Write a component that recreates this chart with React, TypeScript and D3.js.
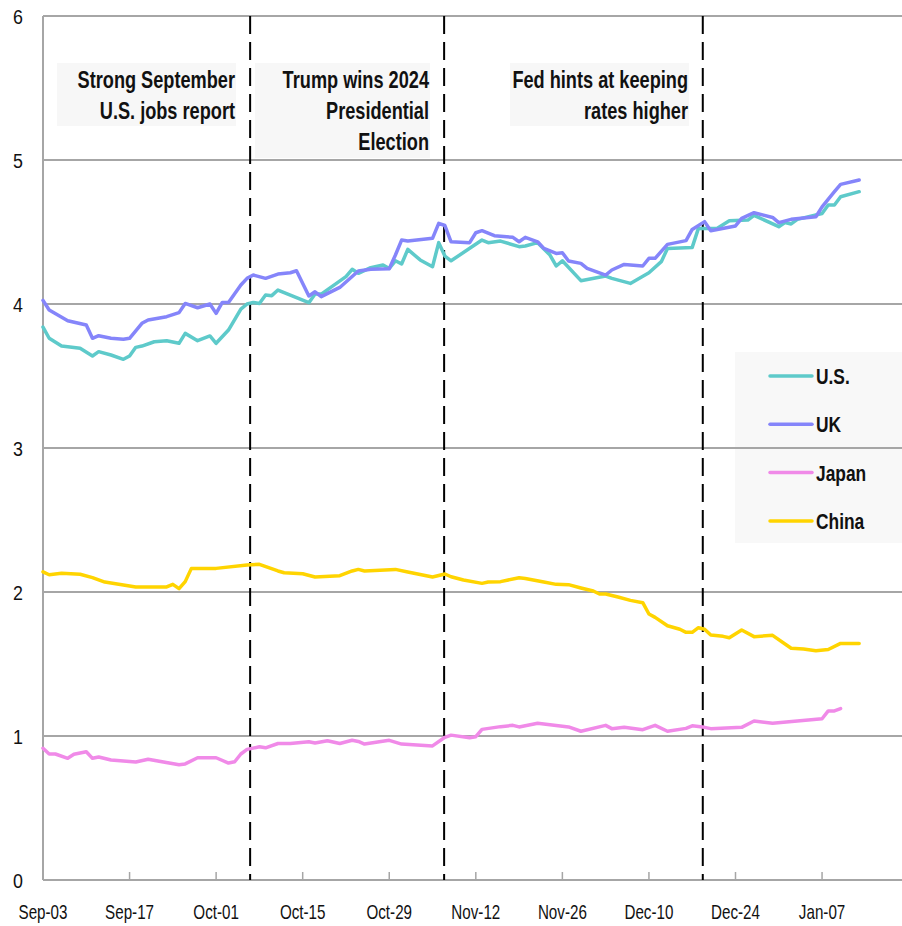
import React from "react";
import * as d3 from "d3";

const US: [string, number][] = [
  ["2024-09-03", 3.84], ["2024-09-04", 3.762], ["2024-09-06", 3.708], ["2024-09-09", 3.692], ["2024-09-11", 3.639],
  ["2024-09-12", 3.669], ["2024-09-14", 3.646], ["2024-09-16", 3.616], ["2024-09-17", 3.639], ["2024-09-18", 3.699],
  ["2024-09-19", 3.708], ["2024-09-21", 3.738], ["2024-09-23", 3.745], ["2024-09-25", 3.727], ["2024-09-26", 3.796],
  ["2024-09-28", 3.745], ["2024-09-30", 3.778], ["2024-10-01", 3.727], ["2024-10-03", 3.819], ["2024-10-05", 3.965],
  ["2024-10-06", 4.0], ["2024-10-07", 4.011], ["2024-10-08", 4.004], ["2024-10-09", 4.063], ["2024-10-10", 4.058],
  ["2024-10-11", 4.097], ["2024-10-16", 4.009], ["2024-10-17", 4.069], ["2024-10-18", 4.069], ["2024-10-22", 4.19],
  ["2024-10-23", 4.241], ["2024-10-24", 4.213], ["2024-10-26", 4.252], ["2024-10-28", 4.271], ["2024-10-29", 4.247],
  ["2024-10-30", 4.3], ["2024-10-31", 4.278], ["2024-11-01", 4.379], ["2024-11-03", 4.306], ["2024-11-05", 4.259],
  ["2024-11-06", 4.426], ["2024-11-07", 4.333], ["2024-11-08", 4.3], ["2024-11-13", 4.444], ["2024-11-14", 4.426],
  ["2024-11-16", 4.437], ["2024-11-19", 4.398], ["2024-11-20", 4.403], ["2024-11-22", 4.426], ["2024-11-24", 4.34],
  ["2024-11-25", 4.264], ["2024-11-26", 4.3], ["2024-11-29", 4.162], ["2024-12-03", 4.194], ["2024-12-04", 4.178],
  ["2024-12-07", 4.143], ["2024-12-10", 4.217], ["2024-12-12", 4.294], ["2024-12-13", 4.386], ["2024-12-17", 4.393],
  ["2024-12-18", 4.525], ["2024-12-21", 4.525], ["2024-12-23", 4.578], ["2024-12-26", 4.583], ["2024-12-27", 4.616],
  ["2024-12-31", 4.537], ["2025-01-01", 4.565], ["2025-01-02", 4.556], ["2025-01-03", 4.588], ["2025-01-07", 4.629],
  ["2025-01-08", 4.688], ["2025-01-09", 4.688], ["2025-01-10", 4.745], ["2025-01-13", 4.78],
];

const UK: [string, number][] = [
  ["2024-09-03", 4.025], ["2024-09-04", 3.958], ["2024-09-07", 3.884], ["2024-09-10", 3.854], ["2024-09-11", 3.762],
  ["2024-09-12", 3.78], ["2024-09-14", 3.762], ["2024-09-16", 3.755], ["2024-09-17", 3.762], ["2024-09-19", 3.866],
  ["2024-09-20", 3.889], ["2024-09-23", 3.912], ["2024-09-25", 3.94], ["2024-09-26", 4.004], ["2024-09-28", 3.974],
  ["2024-09-30", 4.0], ["2024-10-01", 3.935], ["2024-10-02", 4.011], ["2024-10-03", 4.011], ["2024-10-05", 4.132],
  ["2024-10-06", 4.178], ["2024-10-07", 4.201], ["2024-10-09", 4.178], ["2024-10-11", 4.208], ["2024-10-13", 4.217],
  ["2024-10-14", 4.231], ["2024-10-16", 4.056], ["2024-10-17", 4.085], ["2024-10-18", 4.051], ["2024-10-21", 4.115],
  ["2024-10-24", 4.229], ["2024-10-26", 4.241], ["2024-10-29", 4.245], ["2024-10-30", 4.34], ["2024-10-31", 4.444],
  ["2024-11-01", 4.437], ["2024-11-05", 4.456], ["2024-11-06", 4.56], ["2024-11-07", 4.545], ["2024-11-08", 4.432],
  ["2024-11-11", 4.426], ["2024-11-12", 4.495], ["2024-11-13", 4.509], ["2024-11-15", 4.474], ["2024-11-18", 4.463],
  ["2024-11-19", 4.432], ["2024-11-20", 4.463], ["2024-11-22", 4.432], ["2024-11-23", 4.386], ["2024-11-25", 4.351],
  ["2024-11-26", 4.356], ["2024-11-27", 4.299], ["2024-11-29", 4.282], ["2024-11-30", 4.247], ["2024-12-03", 4.201],
  ["2024-12-04", 4.236], ["2024-12-06", 4.275], ["2024-12-09", 4.264], ["2024-12-10", 4.317], ["2024-12-11", 4.317],
  ["2024-12-13", 4.414], ["2024-12-16", 4.44], ["2024-12-17", 4.518], ["2024-12-19", 4.572], ["2024-12-20", 4.509],
  ["2024-12-24", 4.542], ["2024-12-25", 4.595], ["2024-12-27", 4.634], ["2024-12-30", 4.601], ["2024-12-31", 4.565],
  ["2025-01-02", 4.588], ["2025-01-06", 4.606], ["2025-01-07", 4.675], ["2025-01-09", 4.78], ["2025-01-10", 4.831],
  ["2025-01-13", 4.861],
];

const JAPAN: [string, number][] = [
  ["2024-09-03", 0.915], ["2024-09-04", 0.875], ["2024-09-05", 0.875], ["2024-09-07", 0.845], ["2024-09-08", 0.873],
  ["2024-09-10", 0.891], ["2024-09-11", 0.845], ["2024-09-12", 0.854], ["2024-09-14", 0.833], ["2024-09-18", 0.819],
  ["2024-09-20", 0.838], ["2024-09-25", 0.8], ["2024-09-26", 0.806], ["2024-09-28", 0.849], ["2024-10-01", 0.849],
  ["2024-10-03", 0.812], ["2024-10-04", 0.821], ["2024-10-05", 0.875], ["2024-10-06", 0.907], ["2024-10-08", 0.925],
  ["2024-10-09", 0.918], ["2024-10-11", 0.948], ["2024-10-13", 0.948], ["2024-10-16", 0.96], ["2024-10-17", 0.951],
  ["2024-10-19", 0.967], ["2024-10-21", 0.948], ["2024-10-23", 0.97], ["2024-10-24", 0.962], ["2024-10-25", 0.944],
  ["2024-10-29", 0.97], ["2024-10-31", 0.944], ["2024-11-05", 0.931], ["2024-11-07", 0.991], ["2024-11-08", 1.006],
  ["2024-11-11", 0.988], ["2024-11-12", 0.995], ["2024-11-13", 1.046], ["2024-11-16", 1.065], ["2024-11-18", 1.074],
  ["2024-11-19", 1.063], ["2024-11-22", 1.088], ["2024-11-24", 1.078], ["2024-11-27", 1.063], ["2024-11-29", 1.033],
  ["2024-12-03", 1.074], ["2024-12-04", 1.051], ["2024-12-06", 1.06], ["2024-12-09", 1.044], ["2024-12-11", 1.074],
  ["2024-12-13", 1.033], ["2024-12-16", 1.053], ["2024-12-17", 1.071], ["2024-12-19", 1.06], ["2024-12-20", 1.051],
  ["2024-12-25", 1.06], ["2024-12-27", 1.104], ["2024-12-30", 1.088], ["2025-01-07", 1.12], ["2025-01-08", 1.174],
  ["2025-01-09", 1.174], ["2025-01-10", 1.19],
];

const CHINA: [string, number][] = [
  ["2024-09-03", 2.14], ["2024-09-04", 2.12], ["2024-09-06", 2.13], ["2024-09-09", 2.123], ["2024-09-11", 2.1],
  ["2024-09-13", 2.069], ["2024-09-15", 2.056], ["2024-09-18", 2.035], ["2024-09-23", 2.035], ["2024-09-24", 2.053],
  ["2024-09-25", 2.023], ["2024-09-26", 2.072], ["2024-09-27", 2.164], ["2024-10-01", 2.164], ["2024-10-06", 2.188],
  ["2024-10-08", 2.192], ["2024-10-11", 2.146], ["2024-10-12", 2.134], ["2024-10-15", 2.127], ["2024-10-17", 2.104],
  ["2024-10-21", 2.113], ["2024-10-23", 2.146], ["2024-10-24", 2.157], ["2024-10-25", 2.146], ["2024-10-30", 2.157],
  ["2024-11-01", 2.139], ["2024-11-05", 2.104], ["2024-11-07", 2.125], ["2024-11-08", 2.106], ["2024-11-10", 2.083],
  ["2024-11-13", 2.06], ["2024-11-14", 2.069], ["2024-11-16", 2.072], ["2024-11-19", 2.099], ["2024-11-20", 2.094],
  ["2024-11-23", 2.069], ["2024-11-25", 2.053], ["2024-11-27", 2.051], ["2024-11-29", 2.028], ["2024-12-01", 2.007],
  ["2024-12-02", 1.986], ["2024-12-03", 1.986], ["2024-12-05", 1.965], ["2024-12-07", 1.942], ["2024-12-09", 1.926],
  ["2024-12-10", 1.847], ["2024-12-11", 1.824], ["2024-12-13", 1.766], ["2024-12-15", 1.741], ["2024-12-16", 1.72],
  ["2024-12-17", 1.72], ["2024-12-18", 1.752], ["2024-12-19", 1.741], ["2024-12-20", 1.701], ["2024-12-22", 1.692],
  ["2024-12-23", 1.682], ["2024-12-25", 1.736], ["2024-12-27", 1.69], ["2024-12-30", 1.699], ["2025-01-02", 1.609],
  ["2025-01-04", 1.604], ["2025-01-06", 1.592], ["2025-01-08", 1.601], ["2025-01-10", 1.643], ["2025-01-13", 1.643],
];

const SERIES_NAMES = ["U.S.", "UK", "Japan", "China"];
const SERIES_DATA = [US, UK, JAPAN, CHINA];
const SERIES_COLORS = ["#5ECACA", "#8585FA", "#F08AE8", "#FFD400"];

const X_TICKS = ["2024-09-03", "2024-09-17", "2024-10-01", "2024-10-15", "2024-10-29", "2024-11-12", "2024-11-26", "2024-12-10", "2024-12-24", "2025-01-07"];
const Y_TICKS = [0, 1, 2, 3, 4, 5, 6];

const EVENT_DATES = ["2024-10-06T12:00", "2024-11-06T21:00", "2024-12-18T17:00"];
const EVENT_LABELS = [
  ["Strong September", "U.S. jobs report"],
  ["Trump wins 2024", "Presidential", "Election"],
  ["Fed hints at keeping", "rates higher"],
];

const FONT = "'Liberation Sans', Arial, sans-serif";

function NText(props: { x: number; y: number; sx: number; size: number; anchor?: string; bold?: boolean; dy?: string; children: React.ReactNode }) {
  const { x, y, sx, size, anchor = "start", bold = false, dy, children } = props;
  return (
    <text
      transform={`translate(${x},${y}) scale(${sx},1)`}
      textAnchor={anchor}
      fontSize={size}
      fontWeight={bold ? "bold" : "normal"}
      dy={dy}
      fill="#111"
    >
      {children}
    </text>
  );
}

export default function App() {
  const W = 902, H = 926;
  const left = 43, top = 16, bottom = 880, right = 902;
  const parse = d3.timeParse("%Y-%m-%d");
  const parseT = d3.timeParse("%Y-%m-%dT%H:%M");
  const start = parse("2024-09-03")!;
  const end = d3.timeDay.offset(start, 138);
  const x = d3.scaleTime().domain([start, end]).range([left, left + 138 * 6.183]);
  const y = d3.scaleLinear().domain([0, 6]).range([bottom, top]);
  const fmt = d3.timeFormat("%b-%d");
  const line = d3.line<[string, number]>()
    .x((d) => x(parse(d[0])!))
    .y((d) => y(d[1]));
  const grid = "#A6A6A6";

  const boxes = [
    { x0: 57, x1: 236, y0: 63, y1: 126 },
    { x0: 255, x1: 430, y0: 63, y1: 158 },
    { x0: 510, x1: 689, y0: 63, y1: 126 },
  ];

  return (
    <svg width={W} height={H} style={{ position: "absolute", left: 0, top: 0, background: "#fff" }} fontFamily={FONT}>
      <rect x={0} y={0} width={W} height={H} fill="#fff" />
      {boxes.map((b, i) => (
        <rect key={i} x={b.x0} y={b.y0} width={b.x1 - b.x0} height={b.y1 - b.y0} fill="#F7F7F7" />
      ))}
      <rect x={735} y={352} width={167} height={191} fill="#F8F8F8" />
      {Y_TICKS.map((t) => (
        <g key={t}>
          <line x1={left} x2={right} y1={y(t)} y2={y(t)} stroke={grid} strokeWidth={2} />
          <NText x={18} y={y(t)} sx={0.85} size={21} anchor="middle" dy="0.36em">{t}</NText>
        </g>
      ))}
      <line x1={left} x2={left} y1={top} y2={bottom} stroke={grid} strokeWidth={2} />
      {X_TICKS.map((t) => {
        const xx = x(parse(t)!);
        return (
          <g key={t}>
            <line x1={xx} x2={xx} y1={bottom} y2={bottom - 8} stroke={grid} strokeWidth={1.5} />
            <NText x={xx} y={919} sx={0.76} size={20} anchor="middle">{fmt(parse(t)!)}</NText>
          </g>
        );
      })}
      {EVENT_DATES.map((d) => {
        const xx = x(parseT(d)!);
        return (
          <line key={d} x1={xx} x2={xx} y1={top} y2={bottom} stroke="#000" strokeWidth={2} strokeDasharray="18,8" />
        );
      })}
      {EVENT_LABELS.map((lines, i) => (
        <g key={i}>
          {lines.map((l, j) => (
            <NText key={j} x={boxes[i].x1 - 1} y={88 + j * 31} sx={0.79} size={23} anchor="end" bold>{l}</NText>
          ))}
        </g>
      ))}
      {SERIES_DATA.map((s, i) => (
        <path key={i} d={line(s) ?? ""} fill="none" stroke={SERIES_COLORS[i]} strokeWidth={3.5} strokeLinejoin="round" strokeLinecap="round" />
      ))}
      {SERIES_NAMES.map((n, i) => (
        <g key={n} transform={`translate(0, ${376 + i * 48.3})`}>
          <line x1={770} x2={812} y1={0} y2={0} stroke={SERIES_COLORS[i]} strokeWidth={3.5} strokeLinecap="round" />
          <NText x={816} y={0} sx={0.79} size={22} bold dy="0.36em">{n}</NText>
        </g>
      ))}
    </svg>
  );
}
